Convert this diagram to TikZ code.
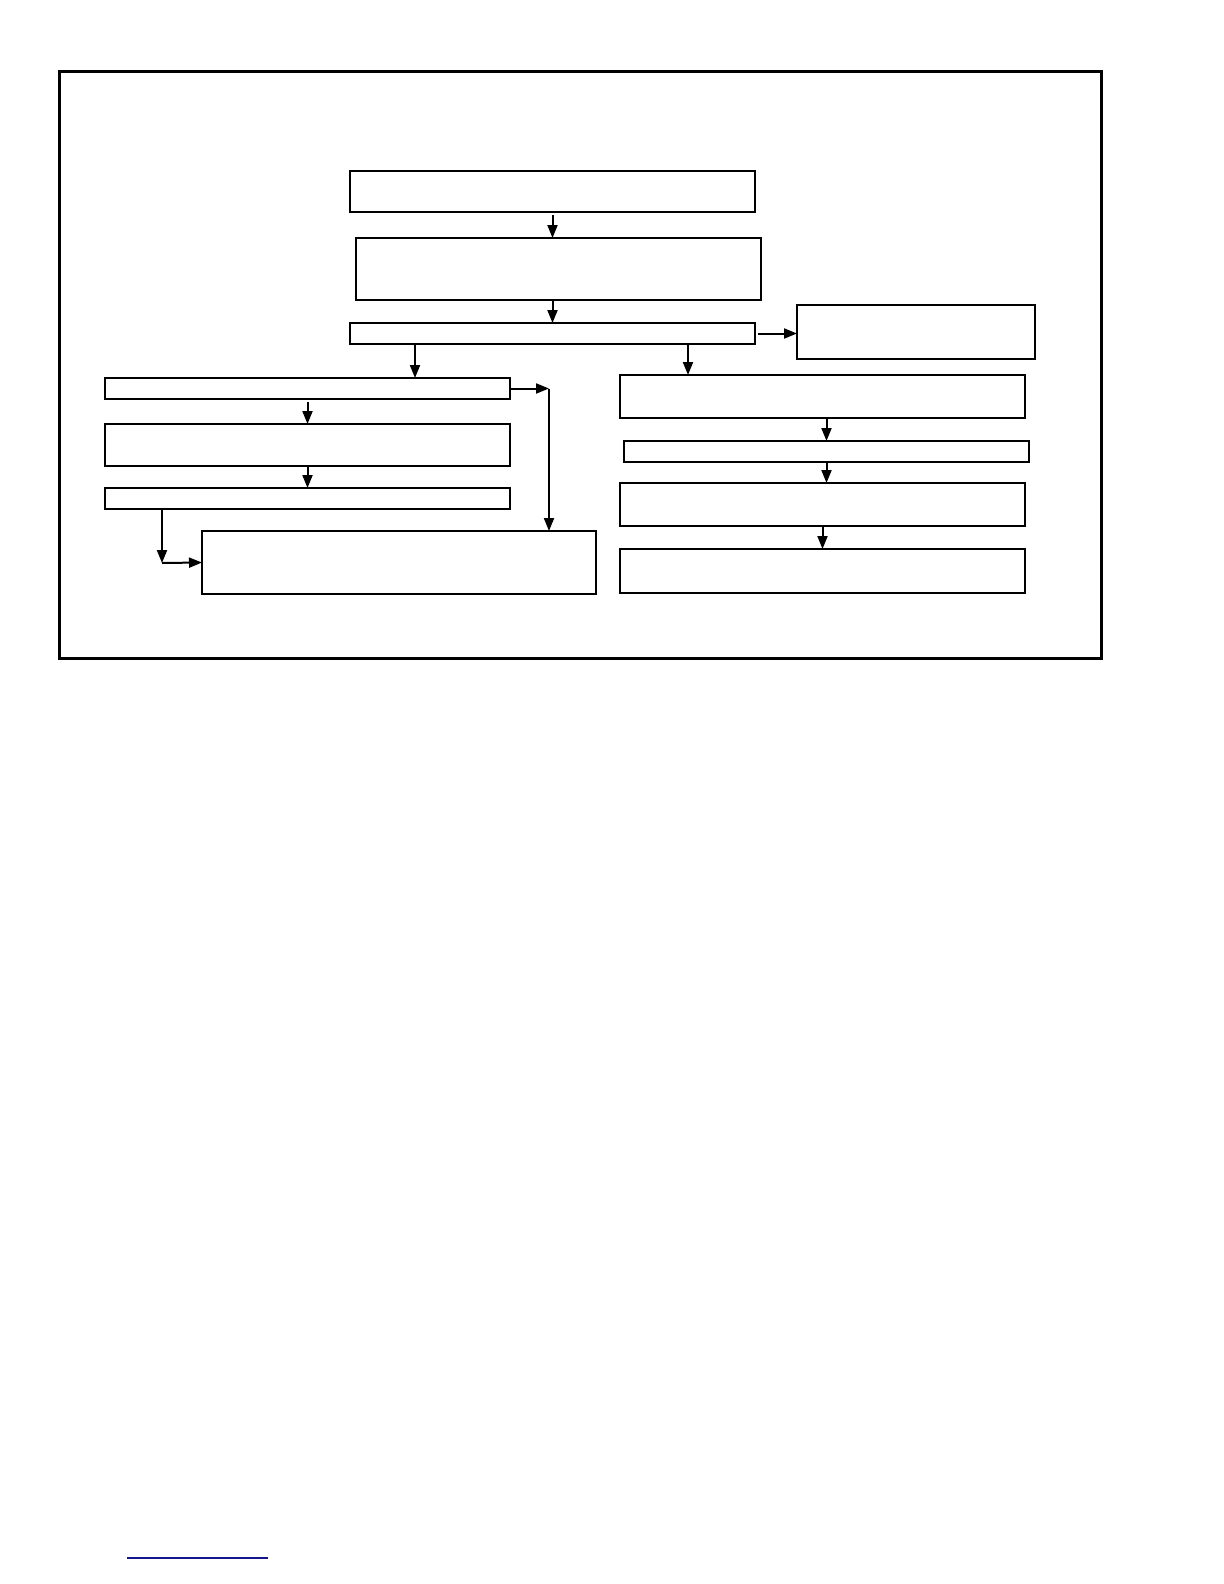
\documentclass[tikz,border=0pt]{standalone}
\usepackage{tikz}
\usetikzlibrary{arrows.meta,positioning,calc}
\definecolor{linkblue}{RGB}{20,20,140}

\tikzset{
  box/.style 2 args={draw, line width=1pt, anchor=north west, inner sep=0pt, outer sep=0pt,
    minimum width=#1, minimum height=#2},
  arr/.style={line width=1pt, -{Triangle[length=6.5pt,width=5pt]}}
}

\begin{document}
\begin{tikzpicture}[x=0.5pt,y=-0.5pt]
        \useasboundingbox (0,0) rectangle (1224,1584);
        \draw[line width=1.5pt] (59,72) rectangle (1101,658);   % frame

        % centre column
        \node[box={202.5pt}{20.5pt}, line width=0.7pt] (top) at (350,171) {};
        \node[box={202.5pt}{31pt}] (second) at (356,238) {};
        \node[box={202.5pt}{10.5pt}] (split) at (350,323) {};
        \node[box={119pt}{27pt}] (side) at (797,305) {};

        % left branch
        \node[box={202.5pt}{10.5pt}] (left1) at (105,378) {};
        \node[box={202.5pt}{21pt}] (left2) at (105,424) {};
        \node[box={202.5pt}{10.5pt}] (left3) at (105,488) {};
        \node[box={197pt}{31.5pt}] (merge) at (202,531) {};

        % right branch
        \node[box={202.5pt}{21.5pt}] (right1) at (620,375) {};
        \node[box={202.5pt}{10.5pt}] (right2) at (624,441) {};
        \node[box={202.5pt}{21.5pt}] (right3) at (620,483) {};
        \node[box={202.5pt}{22pt}] (right4) at (620,549) {};

        % arrows
        \draw[arr, shorten <=1.5pt] (top.south) -- (top.south |- second.north);
        \draw[arr] (split.north |- second.south) -- (split.north);
        \draw[arr, shorten <=1.5pt] (split.east) -- (side.west |- split.east);
        \coordinate (cl) at ($(split.south west)+(65,0)$);
        \coordinate (cr) at ($(split.south west)+(338,0)$);
        \draw[arr] (cl) -- (cl |- left1.north);
        \draw[arr] (cr) -- (cr |- right1.north);

        \draw[arr, shorten <=1.5pt] (left1.south) -- (left1.south |- left2.north);
        \draw[arr] (left2.south) -- (left3.north);
        \coordinate (k1) at ($(left1.east)+(39,0)$);
        \draw[arr] (left1.east) -- (k1);
        \draw[arr] (k1) -- (k1 |- merge.north);
        \coordinate (k2) at (162,563);
        \draw[arr] (left3.south -| k2) -- (k2);
        \draw[arr] (k2) -- (merge.west);

        \draw[arr] (right2.north |- right1.south) -- (right2.north);
        \draw[arr] (right2.south) -- (right2.south |- right3.north);
        \draw[arr] (right3.south) -- (right3.south |- right4.north);

        % footnote rule
        \draw[linkblue, line width=0.8pt] (127,1558) -- (268,1558);
\end{tikzpicture}
\end{document}
